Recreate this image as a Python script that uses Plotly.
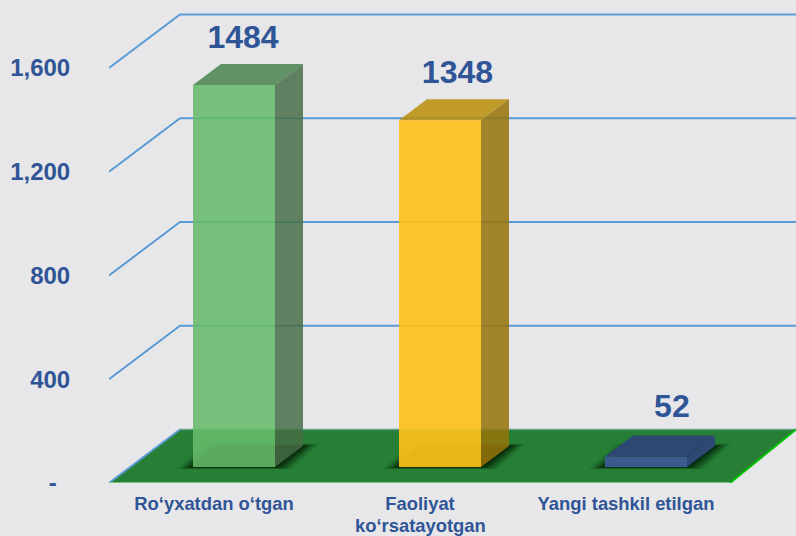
import plotly.graph_objects as go

categories = ["Ro‘yxatdan o‘tgan", "Faoliyat", "Yangi tashkil etilgan"]
category_second_lines = ["", "ko‘rsatayotgan", ""]
values = [1484, 1348, 52]
y_ticks = [0, 400, 800, 1200, 1600]
y_tick_labels = ["-\u00a0\u00a0", "400", "800", "1,200", "1,600"]
grid_values = [0, 400, 800, 1200, 1600]

W, H = 796, 536
BG = "#E7E7E9"
TXT = "#2F5597"
FONT = "Liberation Sans"

# scale: pixels per axis unit, and how the axes are placed
PX_X, PX_Y = 206.0, 415.0 / 1600.0
LEFT, BOTTOM = 109, 53
CAT0_PX = 214
x_min = (LEFT - CAT0_PX) / PX_X
x_max = (W - CAT0_PX) / PX_X
y_max = (H - BOTTOM) / PX_Y


def ox(px):
    return px / PX_X


def oy(px):
    return px / PX_Y


fig = go.Figure()


def poly(xs, ys, fill):
    fig.add_trace(go.Scatter(
        x=list(xs) + [xs[0]], y=list(ys) + [ys[0]], mode="lines", fill="toself",
        fillcolor=fill, line=dict(color="rgba(0,0,0,0)", width=0),
        hoverinfo="skip", showlegend=False, cliponaxis=True))


def seg(xs, ys, color, lw):
    fig.add_trace(go.Scatter(
        x=xs, y=ys, mode="lines", line=dict(color=color, width=lw),
        hoverinfo="skip", showlegend=False, cliponaxis=False))


# depth of the box floor
GD_X, GD_Y = ox(71), oy(53.5)
floor_l, floor_r = -0.51, 2.505

# back wall grid
for v in grid_values[1:]:
    seg([x_min, x_min + GD_X, x_max], [v, v + GD_Y, v + GD_Y], "#5B9BD5", 2)

# floor
poly([floor_l, floor_r, x_max, floor_l + GD_X], [0, 0, GD_Y, GD_Y], "#267F35")
seg([floor_l + GD_X, x_max], [GD_Y, GD_Y], "#5FA08F", 1.5)
seg([floor_l, floor_l + GD_X], [0, GD_Y], "#5B9BD5", 2)
seg([floor_l, floor_r], [0, 0], "#70C47A", 2)
seg([floor_r, x_max], [0, GD_Y], "#00C000", 2)

# bars
BAR_W = ox(82)
BAR_OFF = ox(-21)       # left edge of a bar relative to category centre
BASE_LIFT = oy(16)
TOP_LIFT = oy(13)
BD_X, BD_Y = ox(28), oy(21)
# (front, top, side)
faces = [
    ("rgba(103,187,107,0.88)", "rgba(72,130,75,0.84)", "rgba(70,110,70,0.84)"),
    ("rgba(253,193,26,0.92)", "rgba(186,142,10,0.86)", "rgba(150,116,10,0.86)"),
    ("rgba(60,90,142,1)", "rgba(46,72,116,1)", "rgba(46,72,116,1)"),
]
SH_N = 18

for i, v in enumerate(values):
    x0 = i + BAR_OFF
    x1 = x0 + BAR_W
    yb = BASE_LIFT
    yt = v + TOP_LIFT
    # soft shadow on the floor: many faint layers, widening away from the bar
    for k in range(SH_N, 0, -1):
        e = ox(k * 1.0)
        f = oy(k * 0.14)
        poly([x0 - e, x1 + e, x1 + BD_X + e, x0 + BD_X - e],
             [yb - f, yb - f, yb + BD_Y + f, yb + BD_Y + f],
             f"rgba(0,8,0,{0.012 + 0.006 * (SH_N - k):.3f})")
    front, top, side = faces[i]
    poly([x0, x1, x1 + BD_X, x0 + BD_X], [yt, yt, yt + BD_Y, yt + BD_Y], top)
    poly([x1, x1 + BD_X, x1 + BD_X, x1], [yb, yb + BD_Y, yt + BD_Y, yt], side)
    poly([x0, x1, x1, x0], [yb, yb, yt, yt], front)

# value labels
fig.add_trace(go.Scatter(
    x=[ox(29) + i * 1.041 for i in range(len(values))],
    y=[v + TOP_LIFT + BD_Y + oy(8 + 3 * (i == 2)) for i, v in enumerate(values)],
    mode="text", text=[str(v) for v in values], textposition="top center",
    textfont=dict(family=FONT, size=32, color=TXT, weight=700),
    hoverinfo="skip", showlegend=False, cliponaxis=False))

CAT_FONT = dict(family=FONT, size=18.4, color=TXT, weight=700)

# second lines of the category labels sit closer than a wrapped tick label would
for i, line in enumerate(category_second_lines):
    if line:
        fig.add_annotation(x=i, xref="x", y=-42.8 / (H - BOTTOM), yref="paper",
                           text=line, showarrow=False, font=CAT_FONT,
                           xanchor="center", yanchor="middle")

fig.update_layout(
    width=W, height=H, autosize=False,
    paper_bgcolor=BG, plot_bgcolor=BG, showlegend=False,
    margin=dict(l=LEFT, r=0, t=0, b=BOTTOM),
    xaxis=dict(range=[x_min, x_max], tickmode="array", tickvals=list(range(len(categories))),
               ticktext=categories, showgrid=False, zeroline=False, showline=False,
               ticks="outside", ticklen=4, tickcolor="rgba(0,0,0,0)",
               tickangle=0, tickfont=CAT_FONT),
    yaxis=dict(range=[0, y_max], tickmode="array", tickvals=y_ticks, ticktext=y_tick_labels,
               showgrid=False, zeroline=False, showline=False,
               ticks="outside", ticklen=33, tickcolor="rgba(0,0,0,0)",
               tickfont=dict(family=FONT, size=24, color=TXT, weight=700)),
)

fig.write_html("out.html", config={"displayModeBar": False},
               post_script="document.body.style.margin='0';document.body.style.overflow='hidden';")
